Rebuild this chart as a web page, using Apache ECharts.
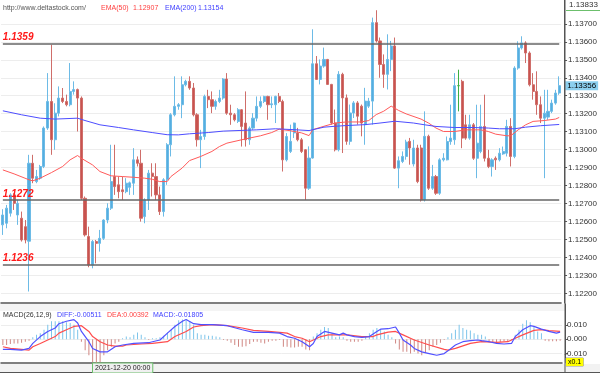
<!DOCTYPE html>
<html><head><meta charset="utf-8">
<script src="https://cdn.jsdelivr.net/npm/echarts@6/dist/echarts.min.js"></script>
<style>html,body{margin:0;padding:0;background:#fff}#c{width:600px;height:373px}</style>
</head><body><div id="c"></div>
<script>
const opens = [1.12581,1.12590,1.12646,1.12748,1.12636,1.12618,1.12571,1.12490,1.12924,1.12822,
1.12841,1.12906,1.13120,1.13268,1.13055,1.13203,1.13287,1.13268,1.13250,1.13324,
1.13334,1.13287,1.12729,1.12516,1.12357,1.12488,1.12478,1.12506,1.12608,1.12674,
1.12850,1.12804,1.12776,1.12766,1.12790,1.12813,1.12943,1.12924,1.12627,1.12720,
1.12869,1.12850,1.12748,1.12655,1.12832,1.13027,1.13194,1.13241,1.13250,1.13361,
1.13380,1.13343,1.13194,1.13055,1.13073,1.13296,1.13278,1.13241,1.13268,1.13287,
1.13393,1.13203,1.13194,1.13157,1.13222,1.13148,1.13055,1.13120,1.13175,1.13241,
1.13268,1.13296,1.13250,1.13250,1.13296,1.13268,1.12943,1.12990,1.13093,1.13093,
1.13055,1.12999,1.12785,1.12953,1.13478,1.13391,1.13465,1.13502,1.13363,1.13148,
1.12999,1.13419,1.13288,1.13046,1.13204,1.13260,1.13242,1.13139,1.13242,1.13270,
1.13707,1.13605,1.13474,1.13419,1.13502,1.13577,1.12897,1.12934,1.12962,1.13046,
1.12920,1.13009,1.13009,1.12720,1.13074,1.12785,1.12850,1.12757,1.12943,1.12943,
1.13045,1.13055,1.13356,1.13380,1.13138,1.13064,1.13138,1.12952,1.12990,1.13129,
1.12952,1.12906,1.12952,1.12943,1.12976,1.12980,1.13129,1.12962,1.13454,1.13566,
1.13594,1.13538,1.13361,1.13324,1.13250,1.13175,1.13181,1.13213,1.13259,1.13315];
const closes = [1.12636,1.12674,1.12748,1.12701,1.12701,1.12497,1.12497,1.12924,1.12841,1.12850,
1.12906,1.13120,1.13268,1.13055,1.13203,1.13287,1.13268,1.13250,1.13324,1.13334,
1.13287,1.12729,1.12525,1.12357,1.12488,1.12478,1.12506,1.12608,1.12674,1.12822,
1.12794,1.12766,1.12766,1.12813,1.12815,1.12943,1.12924,1.12618,1.12720,1.12869,
1.12850,1.12748,1.12655,1.12832,1.13027,1.13194,1.13241,1.13250,1.13361,1.13380,
1.13343,1.13194,1.13055,1.13073,1.13296,1.13278,1.13241,1.13268,1.13287,1.13393,
1.13203,1.13194,1.13166,1.13222,1.13129,1.13055,1.13120,1.13175,1.13241,1.13268,
1.13296,1.13250,1.13255,1.13296,1.13268,1.12943,1.13073,1.13046,1.13148,1.13055,
1.12990,1.12785,1.12953,1.13478,1.13391,1.13465,1.13502,1.13363,1.13148,1.12999,
1.13419,1.13288,1.13046,1.13204,1.13260,1.13186,1.13148,1.13270,1.13270,1.13707,
1.13605,1.13474,1.13419,1.13502,1.13577,1.12897,1.12938,1.12962,1.13042,1.13009,
1.13009,1.12822,1.12720,1.13074,1.12785,1.12850,1.12757,1.12943,1.12952,1.13045,
1.13064,1.13356,1.13356,1.13064,1.13064,1.13138,1.12952,1.13036,1.13129,1.12952,
1.12906,1.12943,1.12943,1.12980,1.12990,1.13129,1.12962,1.13454,1.13566,1.13594,
1.13538,1.13361,1.13324,1.13250,1.13175,1.13203,1.13213,1.13259,1.13315,1.13356];
const lows = [1.12525,1.12562,1.12627,1.12664,1.12581,1.12488,1.12478,1.12210,1.12813,1.12813,
1.12832,1.12897,1.13110,1.12971,1.12999,1.13185,1.13259,1.13241,1.13241,1.13306,
1.13101,1.12720,1.12516,1.12345,1.12339,1.12367,1.12432,1.12497,1.12590,1.12664,
1.12748,1.12729,1.12720,1.12757,1.12748,1.12748,1.12906,1.12599,1.12590,1.12664,
1.12739,1.12720,1.12636,1.12627,1.12804,1.12962,1.13185,1.13222,1.13175,1.13352,
1.13333,1.13185,1.13017,1.12897,1.13055,1.13231,1.13203,1.13222,1.13259,1.13278,
1.13194,1.13138,1.13157,1.13148,1.13017,1.13017,1.13027,1.13110,1.13157,1.13231,
1.13259,1.13166,1.13231,1.13148,1.13259,1.12878,1.12934,1.12981,1.13065,1.13046,
1.12981,1.12720,1.12776,1.12950,1.13388,1.13363,1.13456,1.13360,1.13139,1.12990,
1.12990,1.12981,1.13027,1.13027,1.13176,1.13139,1.13074,1.13027,1.13232,1.13139,
1.13596,1.13400,1.13344,1.13335,1.13437,1.12893,1.12785,1.12925,1.12944,1.12916,
1.12906,1.12813,1.12711,1.12711,1.12776,1.12776,1.12748,1.12748,1.12934,1.12940,
1.13027,1.13027,1.13213,1.13008,1.13055,1.13055,1.12943,1.12841,1.12980,1.12934,
1.12897,1.12850,1.12887,1.12934,1.12971,1.12962,1.12906,1.12952,1.13445,1.13557,
1.13482,1.13352,1.13278,1.13194,1.13148,1.12841,1.13166,1.13203,1.13250,1.13305];
const highs = [1.12668,1.12692,1.12757,1.12757,1.12720,1.12655,1.12608,1.12971,1.12971,1.12887,
1.12915,1.13129,1.13426,1.13584,1.13258,1.13352,1.13343,1.13306,1.13482,1.13380,
1.13340,1.13296,1.12739,1.12571,1.12497,1.12497,1.12553,1.12612,1.12701,1.13027,
1.13027,1.12850,1.12850,1.12841,1.12822,1.13008,1.12962,1.12999,1.12729,1.12887,
1.12924,1.12924,1.12794,1.12841,1.13036,1.13203,1.13408,1.13259,1.13408,1.13389,
1.13408,1.13371,1.13203,1.13110,1.13306,1.13333,1.13324,1.13278,1.13333,1.13398,
1.13426,1.13250,1.13203,1.13231,1.13226,1.13324,1.13129,1.13203,1.13296,1.13296,
1.13300,1.13300,1.13296,1.13300,1.13315,1.13278,1.13092,1.13139,1.13150,1.13121,
1.13065,1.13003,1.13018,1.13670,1.13521,1.13502,1.13568,1.13505,1.13366,1.13223,
1.13437,1.13428,1.13307,1.13251,1.13270,1.13270,1.13251,1.13344,1.13288,1.13735,
1.13776,1.13624,1.13530,1.13642,1.13605,1.13624,1.12962,1.12990,1.13055,1.13065,
1.13055,1.13027,1.13027,1.13213,1.13083,1.12915,1.12859,1.12952,1.12980,1.13073,
1.13250,1.13426,1.13445,1.13389,1.13194,1.13194,1.13148,1.13250,1.13250,1.13306,
1.12999,1.12952,1.12962,1.13008,1.13017,1.13166,1.13175,1.13464,1.13603,1.13631,
1.13603,1.13547,1.13426,1.13436,1.13296,1.13333,1.13333,1.13278,1.13333,1.13408];

const ema50 = [[0,1.12887],[3,1.12865],[7,1.12832],[8,1.12826],[10,1.12841],[13,1.12872],[16,1.12906],[18,1.12943],[20,1.12967],[21,1.12952],[24,1.12915],[26,1.12878],[29,1.12854],[32,1.12850],[35,1.12846],[38,1.12841],[40,1.12835],[42,1.12822],[44,1.12822],[45,1.12850],[48,1.12897],[50,1.12939],[53,1.12962],[56,1.12990],[58,1.13017],[60,1.13036],[64,1.13055],[66,1.13064],[69,1.13077],[72,1.13095],[74,1.13114],[77,1.13105],[80,1.13093],[82,1.13078],[83,1.13111],[86,1.13130],[89,1.13148],[92,1.13154],[96,1.13154],[98,1.13162],[100,1.13195],[102,1.13214],[104,1.13242],[106,1.13218],[108,1.13199],[112,1.13170],[114,1.13148],[116,1.13120],[118,1.13101],[121,1.13101],[124,1.13110],[128,1.13110],[130,1.13101],[132,1.13086],[135,1.13077],[136,1.13077],[138,1.13110],[140,1.13138],[142,1.13157],[145,1.13162],[148,1.13170],[149,1.13179]];
const ema200 = [[0,1.13216],[5,1.13194],[10,1.13175],[14,1.13170],[20,1.13175],[22,1.13162],[26,1.13138],[31,1.13123],[35,1.13110],[40,1.13095],[44,1.13083],[47,1.13082],[50,1.13088],[55,1.13095],[59,1.13103],[64,1.13107],[68,1.13110],[73,1.13116],[78,1.13111],[82,1.13106],[86,1.13125],[89,1.13130],[92,1.13134],[97,1.13139],[101,1.13148],[105,1.13158],[110,1.13148],[113,1.13138],[116,1.13129],[121,1.13123],[126,1.13123],[130,1.13120],[133,1.13116],[137,1.13116],[140,1.13125],[144,1.13133],[149,1.13140]];

const diffLine = [[0,-0.0071],[2,-0.0071],[5,-0.0076],[7,-0.0064],[8,-0.0029],[10,0.0019],[12,0.0055],[14,0.0079],[15,0.0109],[17,0.0126],[19,0.0138],[20,0.0114],[21,0.0055],[23,-0.0017],[24,-0.0064],[26,-0.0088],[28,-0.0088],[30,-0.0052],[32,-0.0040],[35,-0.0029],[39,-0.0024],[40,-0.0017],[42,-0.0005],[44,0.0043],[46,0.0090],[48,0.0126],[49,0.0138],[51,0.0109],[53,0.0102],[56,0.0102],[60,0.0095],[64,0.0067],[67,0.0048],[71,0.0048],[74,0.0043],[76,0.0019],[78,0.0007],[80,-0.0017],[82,-0.0052],[83,-0.0029],[84,0.0019],[86,0.0055],[88,0.0043],[90,0.0031],[91,0.0043],[92,0.0031],[94,0.0019],[96,0.0014],[98,0.0019],[100,0.0055],[101,0.0071],[103,0.0074],[105,0.0086],[106,0.0043],[107,-0.0005],[109,-0.0040],[110,-0.0064],[112,-0.0088],[114,-0.0100],[116,-0.0112],[118,-0.0100],[119,-0.0081],[121,-0.0040],[123,-0.0017],[125,-0.0010],[127,-0.0005],[128,-0.0010],[130,-0.0017],[132,-0.0029],[134,-0.0033],[136,-0.0029],[137,0.0019],[139,0.0067],[141,0.0095],[142,0.0090],[144,0.0071],[146,0.0055],[148,0.0043],[149,0.0050]];
const deaLine = [[0,-0.0052],[2,-0.0064],[5,-0.0071],[7,-0.0076],[8,-0.0052],[10,-0.0029],[12,-0.0005],[14,0.0019],[15,0.0043],[17,0.0067],[19,0.0090],[21,0.0095],[23,0.0055],[24,0.0019],[26,-0.0017],[28,-0.0040],[30,-0.0048],[32,-0.0048],[33,-0.0040],[37,-0.0033],[40,-0.0029],[44,-0.0017],[46,0.0019],[49,0.0055],[51,0.0086],[53,0.0095],[56,0.0102],[60,0.0095],[64,0.0079],[67,0.0062],[71,0.0055],[74,0.0048],[76,0.0043],[78,0.0019],[80,0.0007],[82,-0.0017],[83,-0.0005],[85,0.0019],[87,0.0031],[92,0.0031],[96,0.0019],[99,0.0019],[100,0.0031],[103,0.0050],[105,0.0055],[107,0.0031],[110,-0.0005],[114,-0.0040],[118,-0.0071],[119,-0.0076],[121,-0.0064],[125,-0.0029],[128,-0.0017],[132,-0.0021],[135,-0.0017],[137,0.0007],[139,0.0031],[142,0.0062],[144,0.0067],[146,0.0060],[149,0.0055]];
const macdHist = [-0.0040,-0.0040,-0.0033,-0.0029,-0.0029,-0.0024,-0.0017,-0.0010,0.0014,0.0031,
0.0043,0.0067,0.0102,0.0126,0.0126,0.0126,0.0126,0.0119,0.0114,0.0102,
0.0067,-0.0017,-0.0076,-0.0112,-0.0160,-0.0171,-0.0160,-0.0112,-0.0076,-0.0052,
-0.0029,-0.0017,0.0007,0.0019,0.0014,0.0031,0.0048,0.0031,0.0014,-0.0005,
0.0007,0.0007,0.0014,0.0024,0.0048,0.0067,0.0102,0.0133,0.0138,0.0133,
0.0126,0.0102,0.0043,0.0031,0.0031,0.0024,0.0024,0.0019,0.0014,-0.0005,
-0.0010,-0.0024,-0.0040,-0.0052,-0.0052,-0.0048,-0.0033,-0.0017,-0.0017,-0.0024,
-0.0029,-0.0017,-0.0010,-0.0010,-0.0005,-0.0052,-0.0052,-0.0057,-0.0057,-0.0052,
-0.0052,-0.0071,-0.0076,0.0019,0.0043,0.0067,0.0086,0.0079,0.0043,0.0014,
0.0019,0.0014,-0.0010,-0.0017,-0.0017,-0.0017,-0.0010,0.0019,0.0043,0.0067,
0.0079,0.0071,0.0055,0.0031,0.0014,-0.0029,-0.0071,-0.0088,-0.0088,-0.0100,
-0.0088,-0.0100,-0.0112,-0.0095,-0.0076,-0.0052,-0.0040,-0.0024,-0.0005,0.0014,
0.0043,0.0067,0.0102,0.0079,0.0067,0.0062,0.0043,0.0031,0.0031,0.0019,
-0.0017,-0.0019,-0.0021,-0.0019,-0.0014,-0.0012,-0.0007,0.0031,0.0067,0.0109,
0.0133,0.0119,0.0090,0.0055,0.0043,-0.0010,-0.0014,-0.0014,-0.0014,-0.0010];

const levels = [1.1359, 1.1272, 1.1236];
const priceTicks = [1.122,1.123,1.124,1.125,1.126,1.127,1.128,1.129,1.130,1.131,1.132,1.133,1.134,1.135,1.136,1.137];
const macdTicks = [-0.01, 0, 0.01];
const priceMin = 1.12146, priceMax = 1.13833;
const macdMin = -0.0166, macdMax = 0.0247;
const headerTexts = ['http://www.deltastock.com/', 'EMA(50)', '1.12907', 'EMA(200)', '1.13154'];
const macdTexts = ['MACD(26,12,9)', 'DIFF:-0.00511', 'DEA:0.00392', 'MACD:-0.01805'];
const dateLabel = '2021-12-20 00:00';
const scaleLabel = 'x0.1';

const FONT = '"Liberation Sans", Arial, sans-serif';
const categories = opens.map((_, i) => String(i));
const candles = opens.map((o, i) => [o, closes[i], lows[i], highs[i]]);
const lastClose = closes[closes.length - 1];
const firstCat = categories[0], lastCat = categories[categories.length - 1];

const chart = echarts.init(document.getElementById('c'), null, {renderer: 'canvas'});

const levelMarks = levels.map(v => ([
  {coord: [firstCat, v],
   lineStyle: {color: '#666', width: 1.5, type: 'solid'},
   label: {show: true, position: 'insideStartTop', formatter: v.toFixed(4),
     color: '#ff1a1a', fontSize: 10, fontWeight: 'bold', fontStyle: 'italic', fontFamily: FONT, distance: [0, 1]}},
  {coord: [lastCat, v]}
]));
const priceMark = [[
  {coord: [firstCat, lastClose], lineStyle: {color: 'rgba(0,0,0,0)', width: 0},
   label: {show: true, position: 'end', formatter: lastClose.toFixed(5), color: '#000',
     fontSize: 8, fontFamily: FONT, backgroundColor: '#8ccfee', padding: [1, 2, 0, 2], distance: 6}},
  {coord: [lastCat, lastClose]}
]];

function txt(text, x, y, fill, size) {
  return {type: 'text', silent: true, z: 100,
    style: {text, x, y, fill, font: (size || 7) + 'px ' + FONT, textVerticalAlign: 'middle'}};
}

const option = {
  animation: false,
  backgroundColor: '#fff',
  grid: [
    {left: 1, right: 38, top: 0, bottom: 70},
    {left: 1, right: 38, top: 304, bottom: 10}
  ],
  xAxis: [
    {type: 'category', gridIndex: 0, data: categories, boundaryGap: true,
      axisLine: {show: true, onZero: false, lineStyle: {color: '#555', width: 1.5}}, axisTick: {show: false},
      axisLabel: {show: false}, splitLine: {show: false}},
    {type: 'category', gridIndex: 1, data: categories, boundaryGap: true,
      axisLine: {show: true, onZero: false, lineStyle: {color: '#555', width: 1.5}}, axisTick: {show: false},
      axisLabel: {show: false}, splitLine: {show: false}}
  ],
  yAxis: [
    {type: 'value', gridIndex: 0, position: 'right', offset: 3, min: priceMin, max: priceMax,
      axisLine: {show: true, lineStyle: {color: '#555', width: 1}},
      axisTick: {show: true, length: 3, customValues: priceTicks, lineStyle: {color: '#555'}},
      axisLabel: {customValues: priceTicks, formatter: v => v.toFixed(5), fontSize: 8, color: '#333', margin: 4, fontFamily: FONT},
      splitLine: {show: true, lineStyle: {color: '#ededed', width: 1}}},
    {type: 'value', gridIndex: 1, position: 'right', offset: 3, min: macdMin, max: macdMax,
      axisLine: {show: true, lineStyle: {color: '#555', width: 1}},
      axisTick: {show: true, length: 3, customValues: macdTicks, lineStyle: {color: '#555'}},
      axisLabel: {customValues: macdTicks, formatter: v => v.toFixed(3), fontSize: 8, color: '#333', margin: 22, align: 'right', fontFamily: FONT},
      splitLine: {show: true, lineStyle: {color: '#ededed', width: 1}}}
  ],
  series: [
    {type: 'candlestick', name: 'price', xAxisIndex: 0, yAxisIndex: 0, data: candles, barWidth: 2.6,
      itemStyle: {color: '#55aee0', color0: '#c9534f', borderColor: '#6dbbe6', borderColor0: '#cf6e6a',
        borderColorDoji: '#3cb043', borderWidth: 1}},
    {type: 'line', name: 'EMA(50)', xAxisIndex: 0, yAxisIndex: 0, data: ema50, showSymbol: false, clip: false,
      lineStyle: {color: '#ff5a5a', width: 1}, z: 3,
      markLine: {symbol: 'none', silent: true, animation: false, data: priceMark}},
    {type: 'line', name: 'EMA(200)', xAxisIndex: 0, yAxisIndex: 0, data: ema200, showSymbol: false,
      lineStyle: {color: '#4d4dff', width: 1}, z: 3,
      markLine: {symbol: 'none', silent: true, animation: false, data: levelMarks}},
    {type: 'bar', name: 'MACD', xAxisIndex: 1, yAxisIndex: 1, data: macdHist, barWidth: 1,
      itemStyle: {color: p => p.value >= 0 ? '#7cc4ea' : '#d08682'}},
    {type: 'line', name: 'DIFF', xAxisIndex: 1, yAxisIndex: 1, data: diffLine, showSymbol: false,
      lineStyle: {color: '#5050ff', width: 1.2}, z: 4},
    {type: 'line', name: 'DEA', xAxisIndex: 1, yAxisIndex: 1, data: deaLine, showSymbol: false,
      lineStyle: {color: '#ff4d4d', width: 1.2}, z: 3}
  ],
  graphic: [
    {type: 'rect', silent: true, z: -10, shape: {x: 0, y: 304, width: 565, height: 7}, style: {fill: '#f4f4f4'}},
    {type: 'rect', silent: true, z: -10, shape: {x: 0, y: 364, width: 600, height: 9}, style: {fill: '#f2f2f2'}},
    {type: 'line', silent: true, z: 50, shape: {x1: 0, y1: 372.5, x2: 600, y2: 372.5}, style: {stroke: '#555', lineWidth: 1}},
    {type: 'line', silent: true, z: 50, shape: {x1: 565, y1: 0, x2: 565, y2: 373}, style: {stroke: '#555', lineWidth: 1}},
    txt(headerTexts[0], 3, 8, '#555'),
    txt(headerTexts[1], 101, 8, '#ff4040'),
    txt(headerTexts[2], 133, 8, '#ff4040'),
    txt(headerTexts[3], 165, 8, '#4040ff'),
    txt(headerTexts[4], 198, 8, '#4040ff'),
    txt(macdTexts[0], 3, 315, '#333'),
    txt(macdTexts[1], 57, 315, '#4040ff'),
    txt(macdTexts[2], 107, 315, '#ff4040'),
    txt(macdTexts[3], 153, 315, '#4040ff'),
    txt(priceMax.toFixed(5), 569, 5, '#333', 8),
    {type: 'line', silent: true, z: 50, shape: {x1: 566, y1: 10.5, x2: 600, y2: 10.5}, style: {stroke: '#6cbf6c', lineWidth: 1}},
    {type: 'text', silent: true, z: 100, style: {text: scaleLabel, x: 566, y: 358, fill: '#000', font: '7px ' + FONT,
      backgroundColor: '#ffff00', padding: [1, 2, 0, 2], borderColor: '#999', borderWidth: 0.5}},
    {type: 'text', silent: true, z: 100, style: {text: dateLabel, x: 93, y: 363.5, fill: '#222', font: '7px ' + FONT,
      backgroundColor: '#f0f0f0', padding: [1, 2, 1, 2], borderColor: '#6cbf6c', borderWidth: 1}}
  ]
};
chart.setOption(option);
</script></body></html>
